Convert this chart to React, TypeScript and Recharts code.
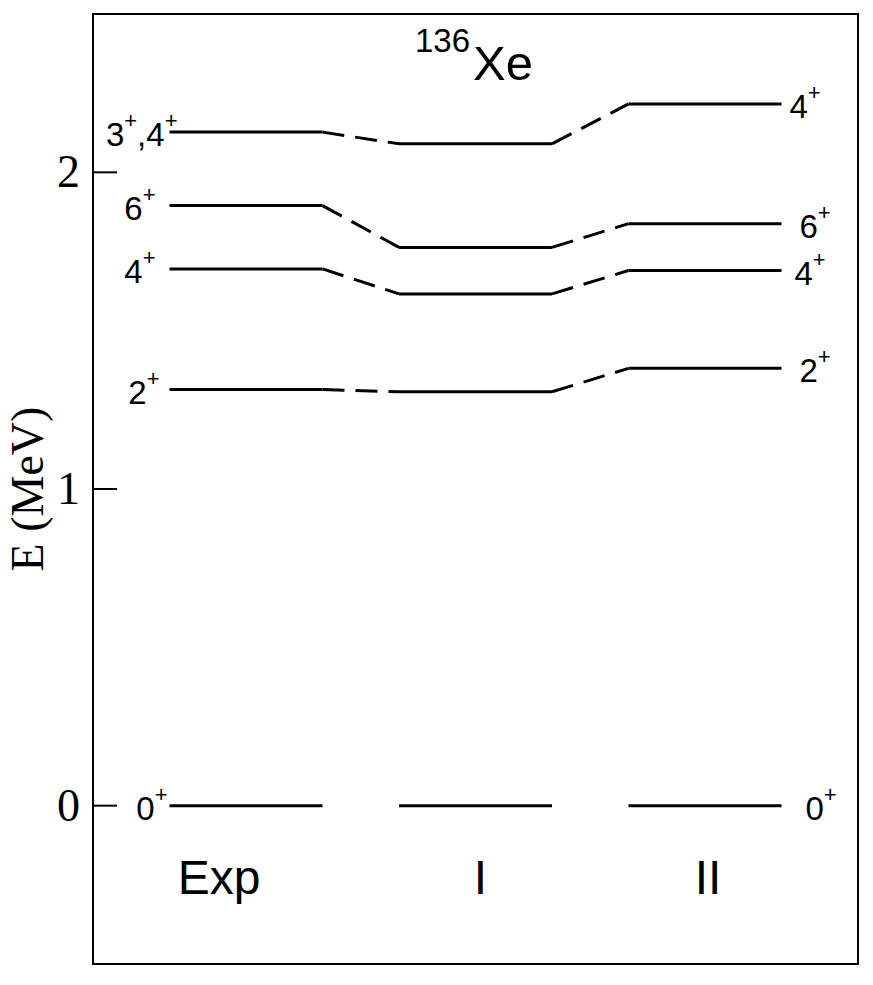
import { LineChart, Line, XAxis, YAxis, ReferenceArea } from "recharts";

// columns of the level scheme
const categories = ["Exp", "I", "II"];
const colStart = [1, 4, 7];
const colEnd = [3, 6, 9];

// level energies (MeV), ordered 0+, 2+, 4+, 6+, top level
const expLevels = [0, 1.314, 1.695, 1.895, 2.127];
const levelsI = [0, 1.307, 1.616, 1.763, 2.09];
const levelsII = [0, 1.381, 1.69, 1.838, 2.216];

// spin labels (each digit gets a "+" superscript)
const expSpins = [["0"], ["2"], ["4"], ["6"], ["3", "4"]];
const iiSpins = [["0"], ["2"], ["4"], ["6"], ["4"]];

const yTicks = [0, 1, 2];

// layout tweaks for the labels (px)
const expLabelDx = [-2, -10, -14, -14, 8];
const iiLabelDx = [24, 18, 13, 18, 8];
const catLabelDx = [-27, 5, 3];

const SANS = "'Liberation Sans', Arial, Helvetica, sans-serif";
const SERIF = "'Liberation Serif', 'Times New Roman', serif";

const columns = [expLevels, levelsI, levelsII];

function SpinText({ x, y, spins, anchor }: { x: number; y: number; spins: string[]; anchor: "start" | "end" }) {
  const parts: any[] = [];
  spins.forEach((s, i) => {
    if (i > 0)
      parts.push(
        <tspan key={"c" + i} fontSize={33} dy={18}>
          ,
        </tspan>
      );
    parts.push(
      <tspan key={"d" + i} fontSize={33}>
        {s}
      </tspan>
    );
    parts.push(
      <tspan key={"p" + i} fontSize={22} dy={-18}>
        +
      </tspan>
    );
  });
  return (
    <text x={x} y={y + 14} textAnchor={anchor} fontFamily={SANS} fill="#000">
      {parts}
    </text>
  );
}

const leftLabel = (k: number) => (props: any) => {
  if (props.index !== 0) return null;
  return <SpinText key={"el" + k} x={props.x + expLabelDx[k]} y={props.y} spins={expSpins[k]} anchor="end" />;
};

const rightLabel = (k: number) => (props: any) => {
  if (props.index !== 1) return null;
  return <SpinText key={"rl" + k} x={props.x + iiLabelDx[k]} y={props.y} spins={iiSpins[k]} anchor="start" />;
};

const catLabel = (c: number) => (props: any) => {
  if (props.index !== 0) return null;
  return (
    <text key={"cat" + c} x={props.x} y={props.y} dx={catLabelDx[c]} textAnchor="middle" fontFamily={SANS} fontSize={48} fill="#000">
      {categories[c]}
    </text>
  );
};

const YTick = (props: any) => {
  const { x, y, payload } = props;
  return (
    <g>
      <line x1={x} x2={x + 24} y1={y} y2={y} stroke="#000" strokeWidth={2} />
      <text x={x - 13} y={y + 15} textAnchor="end" fontFamily={SERIF} fontSize={46} fill="#000">
        {payload.value}
      </text>
    </g>
  );
};

export default function App() {
  const levelLines: any[] = [];
  columns.forEach((col, c) => {
    col.forEach((e, k) => {
      levelLines.push(
        <Line
          key={`lv-${c}-${k}`}
          data={[
            { x: colStart[c], e },
            { x: colEnd[c], e },
          ]}
          dataKey="e"
          stroke="#000"
          strokeWidth={3}
          dot={false}
          activeDot={false}
          isAnimationActive={false}
          label={c === 0 ? leftLabel(k) : c === 2 ? rightLabel(k) : undefined}
        />
      );
    });
  });

  const connectors: any[] = [];
  for (let c = 0; c < 2; c++) {
    for (let k = 1; k < columns[c].length; k++) {
      connectors.push(
        <Line
          key={`cn-${c}-${k}`}
          data={[
            { x: colEnd[c], e: columns[c][k] },
            { x: colStart[c + 1], e: columns[c + 1][k] },
          ]}
          dataKey="e"
          stroke="#000"
          strokeWidth={3}
          strokeDasharray="22 11"
          dot={false}
          activeDot={false}
          isAnimationActive={false}
        />
      );
    }
  }

  // column names sit below the 0+ levels
  const catLines = categories.map((name, c) => (
    <Line
      key={`cat-${name}`}
      data={[{ x: (colStart[c] + colEnd[c]) / 2, e: -0.28 }]}
      dataKey="e"
      stroke="none"
      dot={false}
      activeDot={false}
      isAnimationActive={false}
      label={catLabel(c)}
    />
  ));

  return (
    <div style={{ position: "absolute", left: 0, top: 0, background: "#fff" }}>
      <LineChart width={873} height={985} margin={{ top: 14, right: 15, bottom: 21, left: 0 }}>
        <XAxis type="number" dataKey="x" domain={[0, 10]} hide allowDataOverflow />
        <YAxis
          type="number"
          domain={[-0.5, 2.5]}
          ticks={yTicks}
          width={93}
          axisLine={false}
          tickLine={false}
          tickSize={0}
          tickMargin={0}
          tick={<YTick />}
          allowDataOverflow
          label={{
            value: "E (MeV)",
            content: (p: any) => {
              const vb = p.viewBox || { x: 0, y: 14, width: 93, height: 950 };
              const cy = vb.y + vb.height / 2;
              return (
                <text x={43} y={cy} transform={`rotate(-90 43 ${cy})`} textAnchor="middle" fontFamily={SERIF} fontSize={46} fill="#000">
                  E (MeV)
                </text>
              );
            },
          }}
        />
        <ReferenceArea x1={0} x2={10} y1={-0.5} y2={2.5} fill="none" stroke="#000" strokeWidth={2} fillOpacity={0} />
        {connectors}
        {levelLines}
        {catLines}
        <text x={415} y={52} fontFamily={SANS} fontSize={33} fill="#000">
          136
        </text>
        <text x={473} y={80} fontFamily={SANS} fontSize={49} fill="#000">
          Xe
        </text>
      </LineChart>
    </div>
  );
}
